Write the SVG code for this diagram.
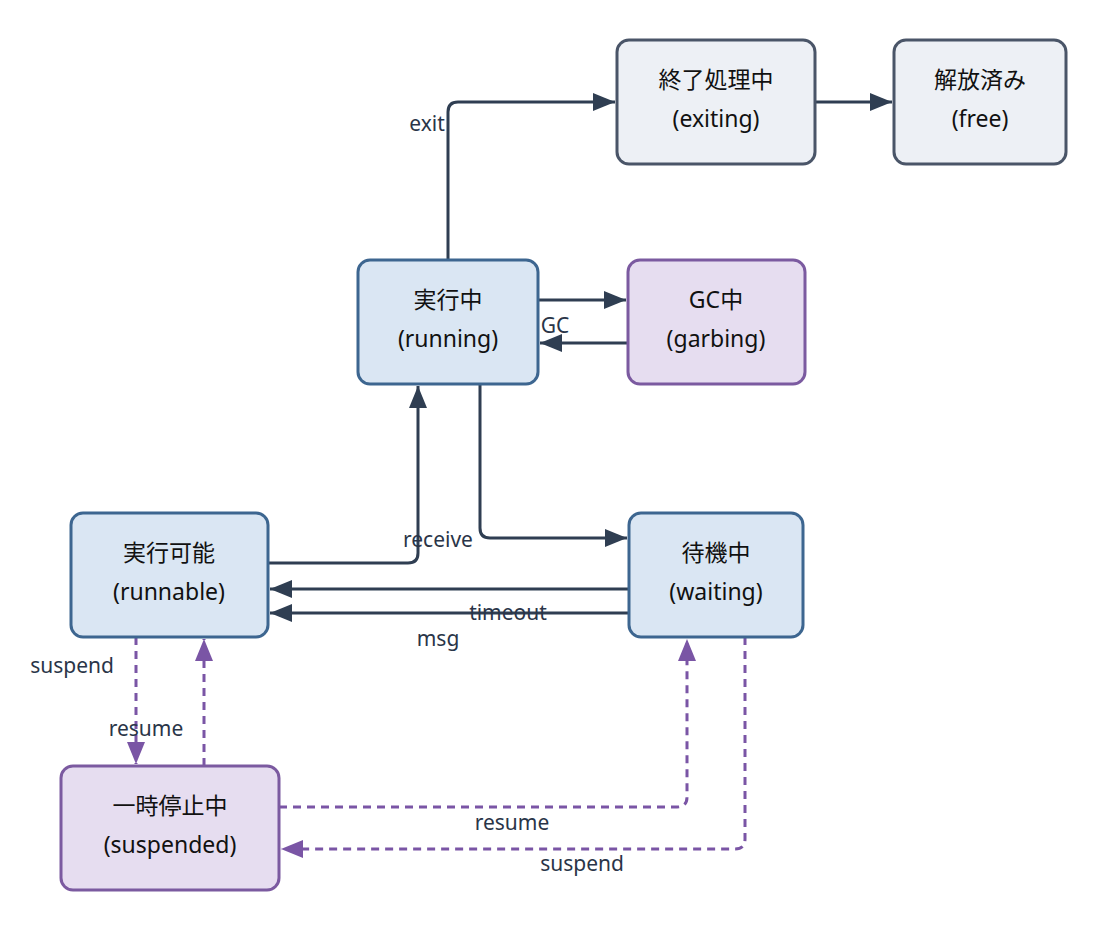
<svg xmlns="http://www.w3.org/2000/svg" width="1107" height="932" viewBox="0 0 1107 932">
<style>
text{font-family:"Noto Sans","Noto Sans CJK JP",sans-serif;font-size:23px;fill:#111;text-anchor:middle}
.lbl{font-size:21px;fill:#2a3548}
.blue{fill:#dae6f3;stroke:#3d6690;stroke-width:3}
.purp{fill:#e6ddf0;stroke:#7b5aa0;stroke-width:3}
.gray{fill:#edf0f5;stroke:#4a5568;stroke-width:3}
.e{fill:none;stroke:#2f3e52;stroke-width:3;marker-end:url(#ad)}
.d{fill:none;stroke:#7a55a5;stroke-width:3;stroke-dasharray:8 6;marker-end:url(#ap)}
</style>
<defs>
<marker id="ad" markerUnits="userSpaceOnUse" markerWidth="24" markerHeight="18" refX="22" refY="9" orient="auto"><path d="M0,0L22,9L0,18z" fill="#2f3e52"/></marker>
<marker id="ap" markerUnits="userSpaceOnUse" markerWidth="24" markerHeight="18" refX="22" refY="9" orient="auto"><path d="M0,0L22,9L0,18z" fill="#7a55a5"/></marker>
</defs>
<rect width="1107" height="932" fill="#fff"/>
<g id="edges">
<path class="e" d="M448,260V112Q448,102 458,102H615"/>
<path class="e" d="M815,102H892"/>
<path class="e" d="M538,300H626"/>
<path class="e" d="M628,343H540"/>
<path class="e" d="M480,384V528Q480,538 490,538H627"/>
<path class="e" d="M268,563H408Q418,563 418,553V386"/>
<path class="e" d="M629,589H270"/>
<path class="e" d="M629,613H270"/>
<path class="d" d="M136,637V764"/>
<path class="d" d="M204,766V639"/>
<path class="d" d="M279,807H677Q687,807 687,797V639"/>
<path class="d" d="M745,637V839Q745,849 735,849H281"/>
<text class="lbl" x="427" y="131">exit</text>
<text class="lbl" x="555" y="333">GC</text>
<text class="lbl" x="438" y="547">receive</text>
<text class="lbl" x="508" y="620">timeout</text>
<text class="lbl" x="438" y="646">msg</text>
<text class="lbl" x="72" y="673">suspend</text>
<text class="lbl" x="146" y="736">resume</text>
<text class="lbl" x="512" y="830">resume</text>
<text class="lbl" x="582" y="871">suspend</text>
</g>
<g id="exiting"><rect class="gray" x="617" y="40" width="198" height="124" rx="12"/><text x="716" y="88">終了処理中</text><text x="716" y="127">(exiting)</text></g>
<g id="free"><rect class="gray" x="894" y="40" width="172" height="124" rx="12"/><text x="980" y="88">解放済み</text><text x="980" y="127">(free)</text></g>
<g id="running"><rect class="blue" x="358" y="260" width="180" height="124" rx="12"/><text x="448" y="308">実行中</text><text x="448" y="347">(running)</text></g>
<g id="garbing"><rect class="purp" x="628" y="260" width="177" height="124" rx="12"/><text x="716" y="308">GC中</text><text x="716" y="347">(garbing)</text></g>
<g id="runnable"><rect class="blue" x="71" y="513" width="197" height="124" rx="12"/><text x="169" y="561">実行可能</text><text x="169" y="600">(runnable)</text></g>
<g id="waiting"><rect class="blue" x="629" y="513" width="174" height="124" rx="12"/><text x="716" y="561">待機中</text><text x="716" y="600">(waiting)</text></g>
<g id="suspended"><rect class="purp" x="61" y="766" width="218" height="124" rx="12"/><text x="170" y="814">一時停止中</text><text x="170" y="853">(suspended)</text></g>
</svg>
